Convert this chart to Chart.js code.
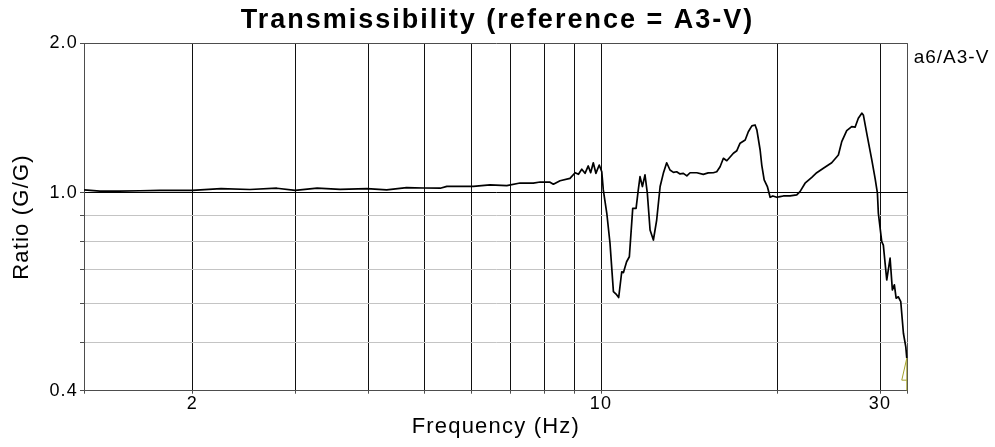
<!DOCTYPE html>
<html>
<head>
<meta charset="utf-8">
<title>Transmissibility</title>
<script src="https://cdn.jsdelivr.net/npm/chart.js@4/dist/chart.umd.min.js"></script>
<style>
  html, body { margin: 0; padding: 0; background: #fff; }
  canvas { display: block; }
</style>
</head>
<body>
<canvas id="chart" width="995" height="447"></canvas>
<script>
// Transmissibility ratio a6 / A3-V versus frequency
const freqHz = [
  1.306, 1.39, 1.50, 1.63, 1.76, 2.00, 2.24, 2.51, 2.79, 3.00,
  3.27, 3.58, 3.98, 4.30, 4.65, 4.97, 5.31, 5.45, 6.05, 6.46,
  6.90, 7.27, 7.66, 7.87, 8.18, 8.29, 8.51, 8.85, 9.03, 9.15,
  9.27, 9.39, 9.51, 9.60, 9.70, 9.80, 9.93, 10.03, 10.09, 10.23,
  10.36, 10.50, 10.61, 10.72, 10.85, 10.92, 11.06, 11.18, 11.33, 11.48,
  11.58, 11.66, 11.77, 11.89, 12.00, 12.13, 12.29, 12.45, 12.62, 12.78,
  12.95, 13.12, 13.30, 13.47, 13.65, 13.83, 14.02, 14.20, 14.58, 14.96,
  15.25, 15.56, 15.77, 15.98, 16.19, 16.41, 16.84, 17.07, 17.29, 17.64,
  17.86, 18.11, 18.34, 18.47, 18.71, 18.83, 19.01, 19.25, 19.46, 19.67,
  19.98, 20.24, 20.50, 21.05, 21.61, 21.89, 22.33, 22.93, 23.38, 24.00,
  24.80, 25.46, 25.80, 26.31, 26.83, 27.19, 27.54, 27.92, 28.09, 28.47,
  29.04, 29.42, 29.69, 29.80, 30.20, 30.39, 30.80, 31.21, 31.49, 31.74,
  31.96, 32.24, 32.55, 32.89, 33.20, 33.33
];
const ratio = [
  1.014, 1.008, 1.008, 1.010, 1.012, 1.012, 1.020, 1.016, 1.022, 1.012,
  1.022, 1.017, 1.020, 1.014, 1.025, 1.023, 1.022, 1.031, 1.031, 1.038,
  1.034, 1.047, 1.046, 1.052, 1.051, 1.041, 1.058, 1.070, 1.098, 1.090,
  1.116, 1.095, 1.133, 1.098, 1.150, 1.095, 1.138, 1.103, 1.014, 0.910,
  0.792, 0.633, 0.626, 0.616, 0.694, 0.691, 0.727, 0.744, 0.931, 0.931,
  1.014, 1.078, 1.030, 1.087, 0.999, 0.842, 0.804, 0.882, 1.030, 1.095,
  1.150, 1.112, 1.100, 1.103, 1.092, 1.095, 1.082, 1.098, 1.098, 1.090,
  1.097, 1.098, 1.103, 1.129, 1.174, 1.161, 1.202, 1.216, 1.259, 1.278,
  1.328, 1.364, 1.370, 1.339, 1.220, 1.138, 1.062, 1.030, 0.980, 0.986,
  0.980, 0.983, 0.986, 0.986, 0.991, 1.006, 1.046, 1.075, 1.098, 1.121,
  1.150, 1.192, 1.268, 1.334, 1.359, 1.356, 1.413, 1.447, 1.435, 1.318,
  1.165, 1.070, 0.999, 0.910, 0.798, 0.785, 0.668, 0.739, 0.638, 0.653,
  0.614, 0.618, 0.604, 0.522, 0.490, 0.465
];

// End-of-sweep cursor marker (frequency, ratio)
const cursorFreq = [33.33, 33.33, 32.68, 33.33];
const cursorRatio = [0.40, 0.465, 0.420, 0.420];

// Axis ranges and ticks
const xRange = [1.306, 33.45];
const yRange = [0.4, 2.0];
const xTickValues = [2, 3, 4, 5, 6, 7, 8, 9, 10, 20, 30];
const xTickLabels = ['2', '', '', '', '', '', '', '', '10', '', '30'];
const yTickValues = [0.4, 0.5, 0.6, 0.7, 0.8, 0.9, 1.0, 2.0];
const yTickLabels = ['0.4', '', '', '', '', '', '1.0', '2.0'];

const titleText = 'Transmissibility (reference = A3-V)';
const seriesLabel = 'a6/A3-V';
const xTitle = 'Frequency (Hz)';
const yTitle = 'Ratio (G/G)';

const FONT = "'Liberation Sans', Arial, Helvetica, sans-serif";
const BORDER = '#4d4d4d';

// Slightly open letter spacing for all canvas text, a bit wider for the title
const textSpacing = {
  id: 'textSpacing',
  beforeLayout(chart) {
    chart.ctx.letterSpacing = '1.2px';
    const tb = chart.titleBlock;
    if (tb && !tb._wideSpacing) {
      const drawTitle = tb.draw.bind(tb);
      tb.draw = (area) => {
        const c = chart.ctx;
        const prev = c.letterSpacing;
        c.letterSpacing = '2px';
        drawTitle(area);
        c.letterSpacing = prev;
      };
      tb._wideSpacing = true;
    }
  },
  beforeDraw(chart) {
    chart.ctx.letterSpacing = '1.2px';
  }
};

// Series name written just right of the plot's top edge
const seriesTag = {
  id: 'seriesTag',
  afterDraw(chart) {
    const { ctx, chartArea } = chart;
    ctx.save();
    ctx.letterSpacing = '1px';
    ctx.font = '19px ' + FONT;
    ctx.fillStyle = '#000';
    ctx.textAlign = 'left';
    ctx.textBaseline = 'middle';
    ctx.fillText(chart.data.datasets[0].label, chartArea.right + 6, chartArea.top + 14);
    ctx.restore();
  }
};

new Chart(document.getElementById('chart'), {
  type: 'line',
  data: {
    datasets: [
      {
        label: seriesLabel,
        data: freqHz.map((f, i) => ({ x: f, y: ratio[i] })),
        borderColor: '#000',
        borderWidth: 1.7,
        pointRadius: 0,
        tension: 0,
        fill: false,
        borderJoinStyle: 'round',
        order: 2
      },
      {
        label: 'cursor',
        data: cursorFreq.map((f, i) => ({ x: f, y: cursorRatio[i] })),
        borderColor: '#a3a22c',
        borderWidth: 1,
        pointRadius: 0,
        tension: 0,
        fill: false,
        order: 1
      }
    ]
  },
  options: {
    responsive: false,
    animation: false,
    events: [],
    layout: { padding: 0 },
    plugins: {
      legend: { display: false },
      tooltip: { enabled: false },
      title: {
        display: true,
        text: titleText,
        color: '#000',
        font: { family: FONT, size: 27, weight: 'bold', lineHeight: 1.2 },
        padding: { top: 4.6, bottom: 6.3 }
      }
    },
    scales: {
      x: {
        type: 'logarithmic',
        position: 'bottom',
        min: xRange[0],
        max: xRange[1],
        bounds: 'data',
        afterBuildTicks(scale) {
          scale.ticks = [xRange[0], ...xTickValues, xRange[1]].map(v => ({ value: v }));
        },
        afterFit(scale) { scale.height = 56.3; },
        ticks: {
          autoSkip: false,
          maxRotation: 0,
          minRotation: 0,
          padding: 0,
          color: '#000',
          font: { family: FONT, size: 18 },
          callback(value) {
            const i = xTickValues.indexOf(value);
            return i >= 0 ? xTickLabels[i] : '';
          }
        },
        grid: {
          drawTicks: true,
          tickLength: 3,
          lineWidth: 1,
          tickColor: BORDER,
          color(ctx) {
            const v = ctx.tick && ctx.tick.value;
            return (v === xRange[0] || v === xRange[1]) ? BORDER : '#111';
          }
        },
        border: { display: true, color: BORDER, width: 1 },
        title: {
          display: true,
          text: xTitle,
          color: '#000',
          font: { family: FONT, size: 22, lineHeight: 1.2 },
          padding: { top: 0, bottom: 6.8 }
        }
      },
      y: {
        type: 'logarithmic',
        position: 'left',
        min: yRange[0],
        max: yRange[1],
        bounds: 'data',
        afterBuildTicks(scale) {
          scale.ticks = yTickValues.map(v => ({ value: v }));
        },
        afterFit(scale) { scale.width = 84; },
        ticks: {
          autoSkip: false,
          padding: 2,
          color: '#000',
          font: { family: FONT, size: 18 },
          callback(value) {
            const i = yTickValues.indexOf(value);
            return i >= 0 ? yTickLabels[i] : '';
          }
        },
        grid: {
          drawTicks: true,
          tickLength: 4,
          lineWidth: 1,
          tickColor: BORDER,
          color(ctx) {
            const v = ctx.tick && ctx.tick.value;
            if (v === 1) return '#000';
            if (v === yRange[0] || v === yRange[1]) return BORDER;
            return '#c4c4c4';
          }
        },
        border: { display: true, color: BORDER, width: 1 },
        title: {
          display: true,
          text: yTitle,
          color: '#000',
          font: { family: FONT, size: 22, lineHeight: 1.2 },
          padding: { top: 9, bottom: 0 }
        }
      },
      // Empty right-hand band that holds the series name
      tag: {
        type: 'linear',
        position: 'right',
        display: true,
        afterFit(scale) { scale.width = 87.3; },
        grid: { display: false, drawTicks: false },
        border: { display: false },
        ticks: { display: false },
        title: { display: false }
      }
    }
  },
  plugins: [textSpacing, seriesTag]
});
</script>
</body>
</html>
